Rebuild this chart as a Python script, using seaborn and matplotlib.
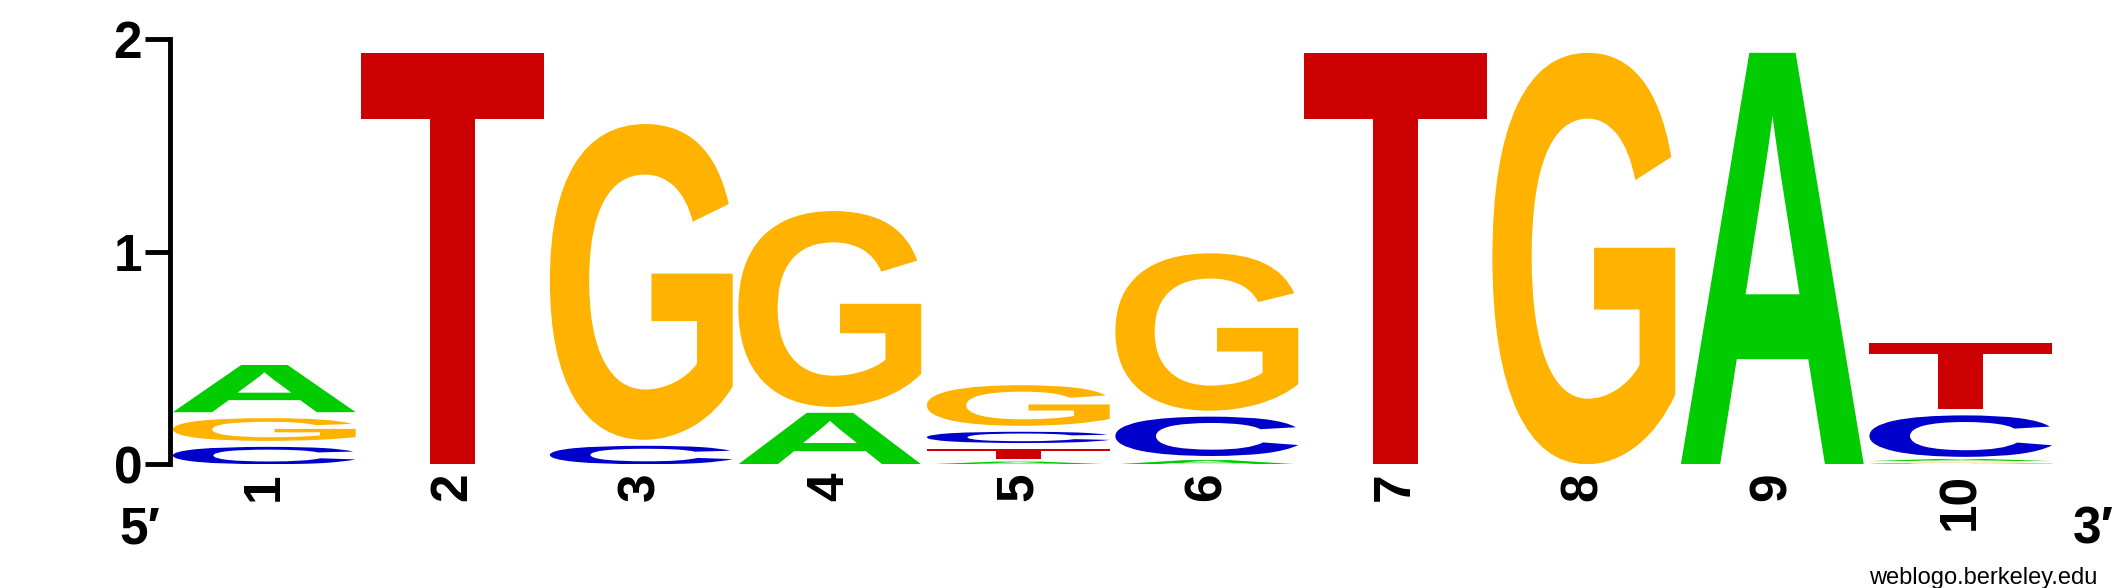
import matplotlib
matplotlib.use("Agg")
import seaborn as sns
import matplotlib.pyplot as plt
from matplotlib.textpath import TextPath
from matplotlib.font_manager import FontProperties
from matplotlib.patches import PathPatch
from matplotlib.transforms import Affine2D

# information content (bits) per letter at each position
positions = [1, 2, 3, 4, 5, 6, 7, 8, 9, 10]
bits_A = [0.25, 0, 0, 0.27, 0.025, 0.039, 0, 0, 1.963, 0.02]
bits_C = [0.11, 0, 0.115, 0, 0.081, 0.213, 0, 0, 0, 0.223]
bits_G = [0.135, 0, 1.513, 0.949, 0.219, 0.768, 0, 1.963, 0, 0.015]
bits_T = [0, 1.963, 0, 0, 0.075, 0, 1.963, 0, 0, 0.338]

letter_colors = {"A": "#00cc00", "C": "#0000cc", "G": "#ffb300", "T": "#cc0000"}

sns.set_theme(style="white", rc={"text.color": "black", "axes.labelcolor": "black",
                                 "xtick.color": "black", "ytick.color": "black"})
plt.rcParams["font.family"] = ["Liberation Sans", "DejaVu Sans"]

glyph_font = FontProperties(family="Liberation Sans", weight="bold")


def draw_letter(ax, letter, x, y0, h, color, width=0.97):
    # squeeze the glyph outline into its box, leaving a small gap above
    gap = min(0.028, 0.5 * h)
    gh = h - gap
    tp = TextPath((0, 0), letter, size=1, prop=glyph_font)
    ext = tp.get_extents()
    tr = (Affine2D().translate(-ext.x0, -ext.y0)
          .scale(width / ext.width, gh / ext.height)
          .translate(x - width / 2, y0))
    ax.add_patch(PathPatch(tr.transform_path(tp), facecolor=color,
                           edgecolor="none", lw=0))


fig = plt.figure(figsize=(21.25, 5.88), dpi=100)
ax = fig.add_axes([0.08, 0.2104, 0.8871, 0.7233])

for i, pos in enumerate(positions):
    stack = [("A", bits_A[i]), ("C", bits_C[i]), ("G", bits_G[i]), ("T", bits_T[i])]
    stack = sorted([s for s in stack if s[1] > 0], key=lambda s: s[1])
    y = 0.0
    for letter, h in stack:
        draw_letter(ax, letter, pos, y, h, letter_colors[letter])
        y += h

ax.set_xlim(0.5, 10.5)
ax.set_ylim(0, 2)
ax.set_yticks([0, 1, 2])
ax.set_yticklabels(["0", "1", "2"], fontsize=37, fontweight="bold", color="black")
ax.set_xticks(positions)
ax.set_xticklabels([str(p) for p in positions], rotation=90,
                   fontsize=37, fontweight="bold", color="black")
ax.tick_params(axis="y", left=True, length=18, width=3.5, pad=2,
               direction="out", color="black")
ax.tick_params(axis="x", length=0, pad=6)
ax.grid(False)
sns.despine(ax=ax, bottom=True)
ax.spines["left"].set_linewidth(3.5)
ax.spines["left"].set_color("black")

fig.text(0.066, 0.099, "5\u2032", ha="center", va="center",
         fontsize=37, fontweight="bold", color="black")
fig.text(0.985, 0.099, "3\u2032", ha="center", va="center",
         fontsize=37, fontweight="bold", color="black")
fig.text(0.987, 0.017, "weblogo.berkeley.edu", ha="right", va="center",
         fontsize=17, color="black")

fig.savefig("out.png", dpi=100)
